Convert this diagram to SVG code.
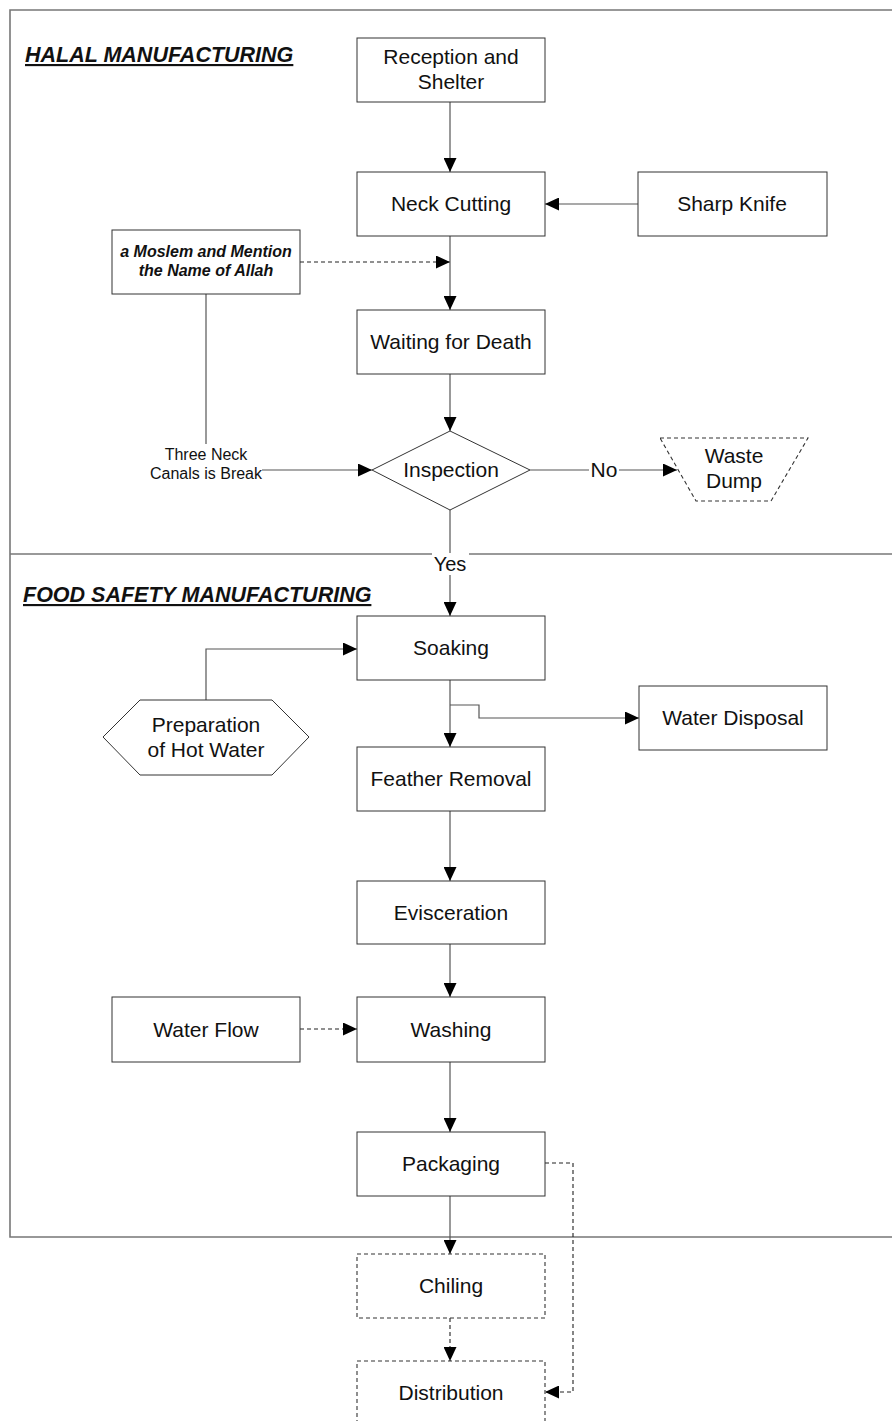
<svg xmlns="http://www.w3.org/2000/svg" width="892" height="1421" viewBox="0 0 892 1421">
<style>
text{font-family:"Liberation Sans",Arial,sans-serif;fill:#111;}
.t{font-size:21px;text-anchor:middle;}
.s{font-size:16px;text-anchor:middle;}
.bi{font-size:16px;font-weight:bold;font-style:italic;text-anchor:middle;}
.h{font-size:21.5px;font-weight:bold;font-style:italic;text-decoration:underline;}
.box{fill:#fff;stroke:#333;stroke-width:1;}
.dbox{fill:#fff;stroke:#333;stroke-width:1.1;stroke-dasharray:4,3;}
.frame{fill:none;stroke:#777;stroke-width:1.6;}
.c{fill:none;stroke:#555;stroke-width:1.2;}
.d{fill:none;stroke:#222;stroke-width:1.1;stroke-dasharray:4,3;}
</style>
<defs>
<marker id="ah" viewBox="0 0 14 13" refX="14" refY="6.5" markerWidth="14" markerHeight="13" markerUnits="userSpaceOnUse" orient="auto">
<path d="M0,0 L14,6.5 L0,13 Z" fill="#000"/>
</marker>
</defs>
<g id="frame">
<path class="frame" d="M892,10 H10 V1237 H892"/>
<path class="frame" d="M10,554 H892"/>
<text class="h" x="25" y="62">HALAL MANUFACTURING</text>
<text class="h" x="23" y="602">FOOD SAFETY MANUFACTURING</text>
</g>
<g id="connectors">
<path class="c" d="M450,102 V172" marker-end="url(#ah)"/>
<path class="c" d="M638,204 H545" marker-end="url(#ah)"/>
<path class="d" d="M300,262 H450" marker-end="url(#ah)"/>
<path class="c" d="M450,236 V310" marker-end="url(#ah)"/>
<path class="c" d="M450,374 V431" marker-end="url(#ah)"/>
<path class="c" d="M206,294 V444"/>
<path class="c" d="M262,470 H372" marker-end="url(#ah)"/>
<path class="c" d="M530,470 H677" marker-end="url(#ah)"/>
<path class="c" d="M450,510 V616" marker-end="url(#ah)"/>
<path class="c" d="M206,700 V649 H357" marker-end="url(#ah)"/>
<path class="c" d="M450,680 V747" marker-end="url(#ah)"/>
<path class="c" d="M450,705 H479 V718 H639" marker-end="url(#ah)"/>
<path class="c" d="M450,811 V881" marker-end="url(#ah)"/>
<path class="c" d="M450,944 V997" marker-end="url(#ah)"/>
<path class="d" d="M300,1029 H357" marker-end="url(#ah)"/>
<path class="c" d="M450,1062 V1132" marker-end="url(#ah)"/>
<path class="c" d="M450,1196 V1254" marker-end="url(#ah)"/>
<path class="d" d="M450,1318 V1361" marker-end="url(#ah)"/>
<path class="d" d="M545,1163 H573 V1392 H545" marker-end="url(#ah)"/>
<text class="s" x="206" y="460">Three Neck</text>
<text class="s" x="206" y="479">Canals is Break</text>
<rect x="589" y="458" width="30" height="24" fill="#fff"/>
<text class="t" x="604" y="477">No</text>
<rect x="432" y="553" width="37" height="22" fill="#fff"/>
<text class="t" x="450" y="571" style="font-size:20px">Yes</text>
</g>
<g id="reception"><rect class="box" x="357" y="38" width="188" height="64"/><text class="t" x="451" y="64">Reception and</text><text class="t" x="451" y="89">Shelter</text></g>
<g id="neck-cutting"><rect class="box" x="357" y="172" width="188" height="64"/><text class="t" x="451" y="211">Neck Cutting</text></g>
<g id="sharp-knife"><rect class="box" x="638" y="172" width="189" height="64"/><text class="t" x="732" y="211">Sharp Knife</text></g>
<g id="moslem"><rect class="box" x="112" y="230" width="188" height="64"/><text class="bi" x="206" y="257">a Moslem and Mention</text><text class="bi" x="206" y="276">the Name of Allah</text></g>
<g id="waiting"><rect class="box" x="357" y="310" width="188" height="64"/><text class="t" x="451" y="349">Waiting for Death</text></g>
<g id="inspection"><polygon class="box" points="450,431 530,470 450,510 372,470"/><text class="t" x="451" y="477">Inspection</text></g>
<g id="waste-dump"><polygon class="dbox" points="660,438 808,438 771,501 696,501"/><text class="t" x="734" y="463">Waste</text><text class="t" x="734" y="488">Dump</text></g>
<g id="soaking"><rect class="box" x="357" y="616" width="188" height="64"/><text class="t" x="451" y="655">Soaking</text></g>
<g id="hot-water"><polygon class="box" points="103,737 140,700 272,700 309,737 272,775 140,775"/><text class="t" x="206" y="732">Preparation</text><text class="t" x="206" y="757">of Hot Water</text></g>
<g id="water-disposal"><rect class="box" x="639" y="686" width="188" height="64"/><text class="t" x="733" y="725">Water Disposal</text></g>
<g id="feather"><rect class="box" x="357" y="747" width="188" height="64"/><text class="t" x="451" y="786">Feather Removal</text></g>
<g id="evisceration"><rect class="box" x="357" y="881" width="188" height="63"/><text class="t" x="451" y="920">Evisceration</text></g>
<g id="water-flow"><rect class="box" x="112" y="997" width="188" height="65"/><text class="t" x="206" y="1037">Water Flow</text></g>
<g id="washing"><rect class="box" x="357" y="997" width="188" height="65"/><text class="t" x="451" y="1037">Washing</text></g>
<g id="packaging"><rect class="box" x="357" y="1132" width="188" height="64"/><text class="t" x="451" y="1171">Packaging</text></g>
<g id="chiling"><rect class="dbox" x="357" y="1254" width="188" height="64"/><text class="t" x="451" y="1293">Chiling</text></g>
<g id="distribution"><rect class="dbox" x="357" y="1361" width="188" height="64"/><text class="t" x="451" y="1400">Distribution</text></g>
</svg>
